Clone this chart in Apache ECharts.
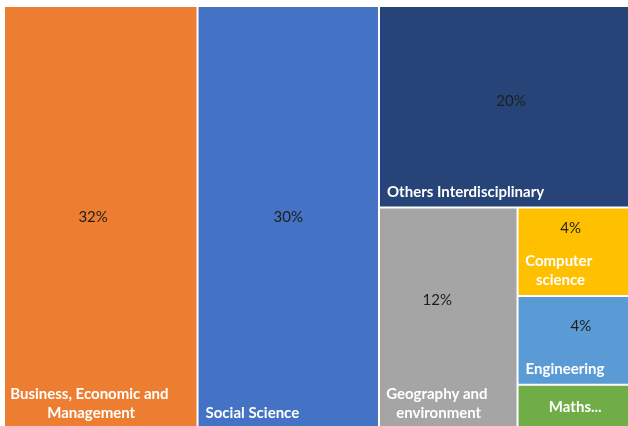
<!DOCTYPE html>
<html>
<head>
<meta charset="utf-8">
<script src="https://cdn.jsdelivr.net/npm/echarts@6/dist/echarts.min.js"></script>
<style>
  html, body { margin: 0; padding: 0; background: #fff; }
  #chart { width: 628px; height: 426px; }
</style>
</head>
<body>
<div id="chart"></div>
<script>
// share of each field, in percent
const categories = ['Business, Economic and Management', 'Social Science', 'Others Interdisciplinary',
  'Geography and environment', 'Computer science', 'Engineering', 'Maths...'];
const shares = [32, 30, 20, 12, 4, 4, 2];
const colors = ['#ED7D31', '#4472C4', '#264478', '#A5A5A5', '#FFC000', '#5B9BD5', '#70AD47'];

// where the name label sits (default: bottom left)
const nameLabelStyle = {
  'Business, Economic and Management': { position: ['45%', '100%'], align: 'center', verticalAlign: 'bottom' },
  'Geography and environment': { position: ['43%', '100%'], align: 'center', verticalAlign: 'bottom' },
  'Computer science': { position: ['37%', '100%'], align: 'center', verticalAlign: 'bottom' },
  'Maths...': { position: 'inside' }
};
// where the percent label sits
const pctLabelPos = {
  'Business, Economic and Management': ['46%', '50%'],
  'Social Science': ['50%', '50%'],
  'Others Interdisciplinary': ['52%', '47%'],
  'Geography and environment': ['42%', '42%'],
  'Computer science': ['46%', '23%'],
  'Engineering': ['55%', '34%']
};

// the plot runs a little past the right and bottom edges of the picture
const common = {
  type: 'treemap',
  left: 5,
  top: 7,
  right: -4,
  bottom: -2,
  roam: false,
  nodeClick: false,
  silent: true,
  sort: false,
  squareRatio: 0.5,
  breadcrumb: { show: false },
  levels: [{ itemStyle: { borderWidth: 0, gapWidth: 2 } }],
  itemStyle: { borderWidth: 0, gapWidth: 2 }
};

const chart = echarts.init(document.getElementById('chart'));
chart.setOption({
  animation: false,
  series: [
    Object.assign({}, common, {
      label: {
        show: true,
        position: 'insideBottomLeft',
        distance: 0,
        padding: [0, 7, 5, 7],
        color: '#fff',
        fontFamily: 'Lato, sans-serif',
        fontWeight: 'bold',
        fontSize: 15,
        lineHeight: 19,
        overflow: 'break',
        formatter: '{b}'
      },
      data: categories.map((c, i) => ({
        name: c,
        value: shares[i],
        itemStyle: { color: colors[i] },
        label: nameLabelStyle[c] || {}
      }))
    }),
    Object.assign({}, common, {
      label: {
        show: true,
        padding: 0,
        color: '#1e1e1e',
        fontFamily: 'Lato, sans-serif',
        fontSize: 15,
        align: 'center',
        verticalAlign: 'middle',
        formatter: p => p.value + '%'
      },
      data: categories.map((c, i) => ({
        name: c,
        value: shares[i],
        itemStyle: { color: 'rgba(0,0,0,0)' },
        label: pctLabelPos[c] ? { position: pctLabelPos[c] } : { show: false }
      }))
    })
  ]
});
</script>
</body>
</html>
